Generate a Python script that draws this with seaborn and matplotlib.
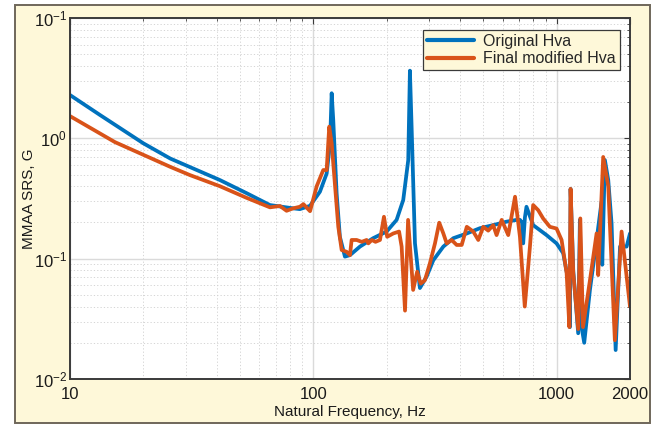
import numpy as np
import pandas as pd
import matplotlib
matplotlib.use("Agg")
import matplotlib.pyplot as plt
import seaborn as sns
from matplotlib.ticker import LogLocator, NullFormatter, FixedLocator
from matplotlib.patches import Rectangle

# ---------------- data ----------------
orig_freq = [10, 13.3, 20, 25.8, 41.3, 53.2, 66.3, 82.6, 88, 96.9, 106.4, 113.4, 117.1,
             118.9, 120.7, 124.6, 128.5, 134.8, 141.4, 155.4, 176.1, 200, 219.8, 234,
             241.5, 245.4, 249.3, 253.3, 261.5, 274, 292, 311, 342, 376, 427, 483, 548,
             622, 684, 706, 720, 728, 740, 751, 800, 908, 998, 1063, 1115, 1133, 1140,
             1169, 1225, 1245, 1265, 1297, 1369, 1458, 1528, 1538, 1577, 1628, 1680,
             1746, 1820, 1937, 2000]
orig_srs = [2.29, 1.56, 0.91, 0.68, 0.45, 0.35, 0.279, 0.262, 0.258, 0.275, 0.36, 0.51, 0.91,
            2.37, 1.42, 0.35, 0.152, 0.104, 0.107, 0.126, 0.148, 0.168, 0.21, 0.307,
            0.51, 0.66, 3.65, 1.25, 0.134, 0.057, 0.071, 0.097, 0.126, 0.148, 0.162, 0.179, 0.19,
            0.203, 0.21, 0.21, 0.2, 0.134, 0.22, 0.27, 0.19, 0.157, 0.134, 0.111, 0.066, 0.027, 0.38,
            0.080, 0.024, 0.21, 0.027, 0.020, 0.055, 0.143, 0.297, 0.089, 0.66, 0.45, 0.196,
            0.0174, 0.126, 0.126, 0.162]

final_freq = [10, 15.3, 20, 25.8, 31.1, 41.3, 53.2, 66.3, 72.9, 77.6, 82.6, 88, 91, 96.9,
              103.2, 109.8, 113.4, 116.2, 118.9, 122.8, 126.6, 130.7, 137, 141.4, 143.6,
              150.6, 158, 165.5, 168.2, 173.9, 180, 187.8, 195, 201, 213, 225, 230.5, 238, 245, 257,
              267, 276, 287, 301, 316, 329, 342, 353, 370, 388, 407, 427, 454, 476, 499,
              523, 548, 566, 594, 632, 674, 706, 739, 776, 800, 839, 879, 937, 998, 1047,
              1098, 1127, 1140, 1169, 1225, 1250, 1282, 1369, 1458, 1480, 1552, 1628,
              1733, 1847, 2000]
final_srs = [1.53, 0.93, 0.73, 0.58, 0.495, 0.40, 0.32, 0.267, 0.274, 0.250, 0.262, 0.27, 0.284, 0.248,
             0.40, 0.545, 0.545, 1.25, 0.91, 0.40, 0.184, 0.118, 0.114, 0.107, 0.143,
             0.143, 0.138, 0.143, 0.134, 0.143, 0.138, 0.143, 0.223, 0.152, 0.162, 0.168, 0.126, 0.037, 0.21, 0.055,
             0.078, 0.062, 0.066, 0.091, 0.134, 0.199, 0.162, 0.134, 0.143, 0.13, 0.13, 0.184, 0.168, 0.143, 0.184,
             0.171, 0.19, 0.157, 0.21, 0.157, 0.327, 0.152, 0.040, 0.126, 0.279, 0.253, 0.216, 0.184, 0.178, 0.143,
             0.076, 0.027, 0.38, 0.076, 0.026, 0.216, 0.027, 0.066, 0.162, 0.073, 0.70, 0.40,
             0.021, 0.168, 0.040]

series_names = ["Original Hva", "Final modified Hva"]
x_ticks = [10, 100, 1000, 2000]
x_ticklabels = ["10", "100", "1000", "2000"]
y_ticks = [1e-2, 1e-1, 1e0, 1e1]
y_ticklabels = [r"$\mathregular{10^{-2}}$", r"$\mathregular{10^{-1}}$",
                r"$\mathregular{10^{0}}$", r"$\mathregular{10^{-1}}$"]

df = pd.concat([
    pd.DataFrame({"freq": orig_freq, "srs": orig_srs, "series": series_names[0]}),
    pd.DataFrame({"freq": final_freq, "srs": final_srs, "series": series_names[1]}),
], ignore_index=True)

# ---------------- style ----------------
sns.set_style("white")
plt.rcParams["font.family"] = ["Liberation Sans", "DejaVu Sans"]
plt.rcParams["mathtext.fontset"] = "custom"
plt.rcParams["mathtext.rm"] = "Liberation Sans"
plt.rcParams["mathtext.it"] = "Liberation Sans:italic"
plt.rcParams["mathtext.bf"] = "Liberation Sans:bold"

W, H = 655, 424
fig = plt.figure(figsize=(W / 100, H / 100), dpi=100, facecolor="white")
bg = "#FEF8D9"
frame = Rectangle((15 / W, 1.5 / H), (650 - 15) / W, (419 - 1.5) / H,
                  transform=fig.transFigure, facecolor=bg,
                  edgecolor="#6f675a", linewidth=1.4, zorder=-10)
fig.add_artist(frame)

ax = fig.add_axes([70 / W, 1 - 379 / H, (630 - 70) / W, (379 - 18) / H])
ax.set_zorder(1)
ax.set_facecolor("white")

palette = {series_names[0]: "#0072BD", series_names[1]: "#D95319"}
sns.lineplot(data=df, x="freq", y="srs", hue="series", palette=palette,
             hue_order=series_names, sort=False, estimator=None,
             linewidth=2.7, ax=ax)

ax.set_xscale("log")
ax.set_yscale("log")
ax.set_xlim(10, 2000)
ax.set_ylim(1e-2, 1e1)

ax.xaxis.set_major_locator(FixedLocator(x_ticks))
ax.set_xticklabels(x_ticklabels)
ax.xaxis.set_minor_locator(LogLocator(base=10, subs=np.arange(2, 10), numticks=20))
ax.xaxis.set_minor_formatter(NullFormatter())
ax.yaxis.set_major_locator(FixedLocator(y_ticks))
ax.set_yticklabels(y_ticklabels)
ax.yaxis.set_minor_locator(LogLocator(base=10, subs=np.arange(2, 10), numticks=20))
ax.yaxis.set_minor_formatter(NullFormatter())

ax.grid(True, which="major", color="#dadada", linewidth=1.0, linestyle="-")
ax.grid(True, which="minor", color="#cfcfcf", linewidth=0.6, linestyle=(0, (1.5, 2.5)))
ax.set_axisbelow(True)

edge = "#3a3a3a"
for s in ax.spines.values():
    s.set_visible(True)
    s.set_color(edge)
    s.set_linewidth(1.4)
ax.tick_params(which="both", direction="in", top=True, right=True, color=edge,
               labelcolor="#1a1a1a", labelsize=12)
ax.tick_params(which="major", length=4, width=0.8)
ax.tick_params(which="minor", length=2.5, width=0.6)
ax.tick_params(axis="x", which="major", pad=6)
ax.tick_params(axis="y", which="major", pad=2)

ax.set_xlabel("Natural Frequency, Hz", fontsize=11, color="#1a1a1a", labelpad=2)
ax.set_ylabel("MMAA SRS, G", fontsize=11, color="#1a1a1a")
ax.yaxis.set_label_coords(-0.06, 0.5)

leg = ax.legend(loc="upper right", bbox_to_anchor=(0.982, 0.967), borderaxespad=0,
                frameon=True, fancybox=False, facecolor=bg, edgecolor=edge,
                framealpha=1, fontsize=11.5, handlelength=2.9, labelspacing=0.15,
                borderpad=0.25, handletextpad=0.6, title=None)
leg.get_frame().set_linewidth(0.9)
for line in leg.get_lines():
    line.set_linewidth(3)

fig.savefig("out.png", dpi=100, facecolor="white")
